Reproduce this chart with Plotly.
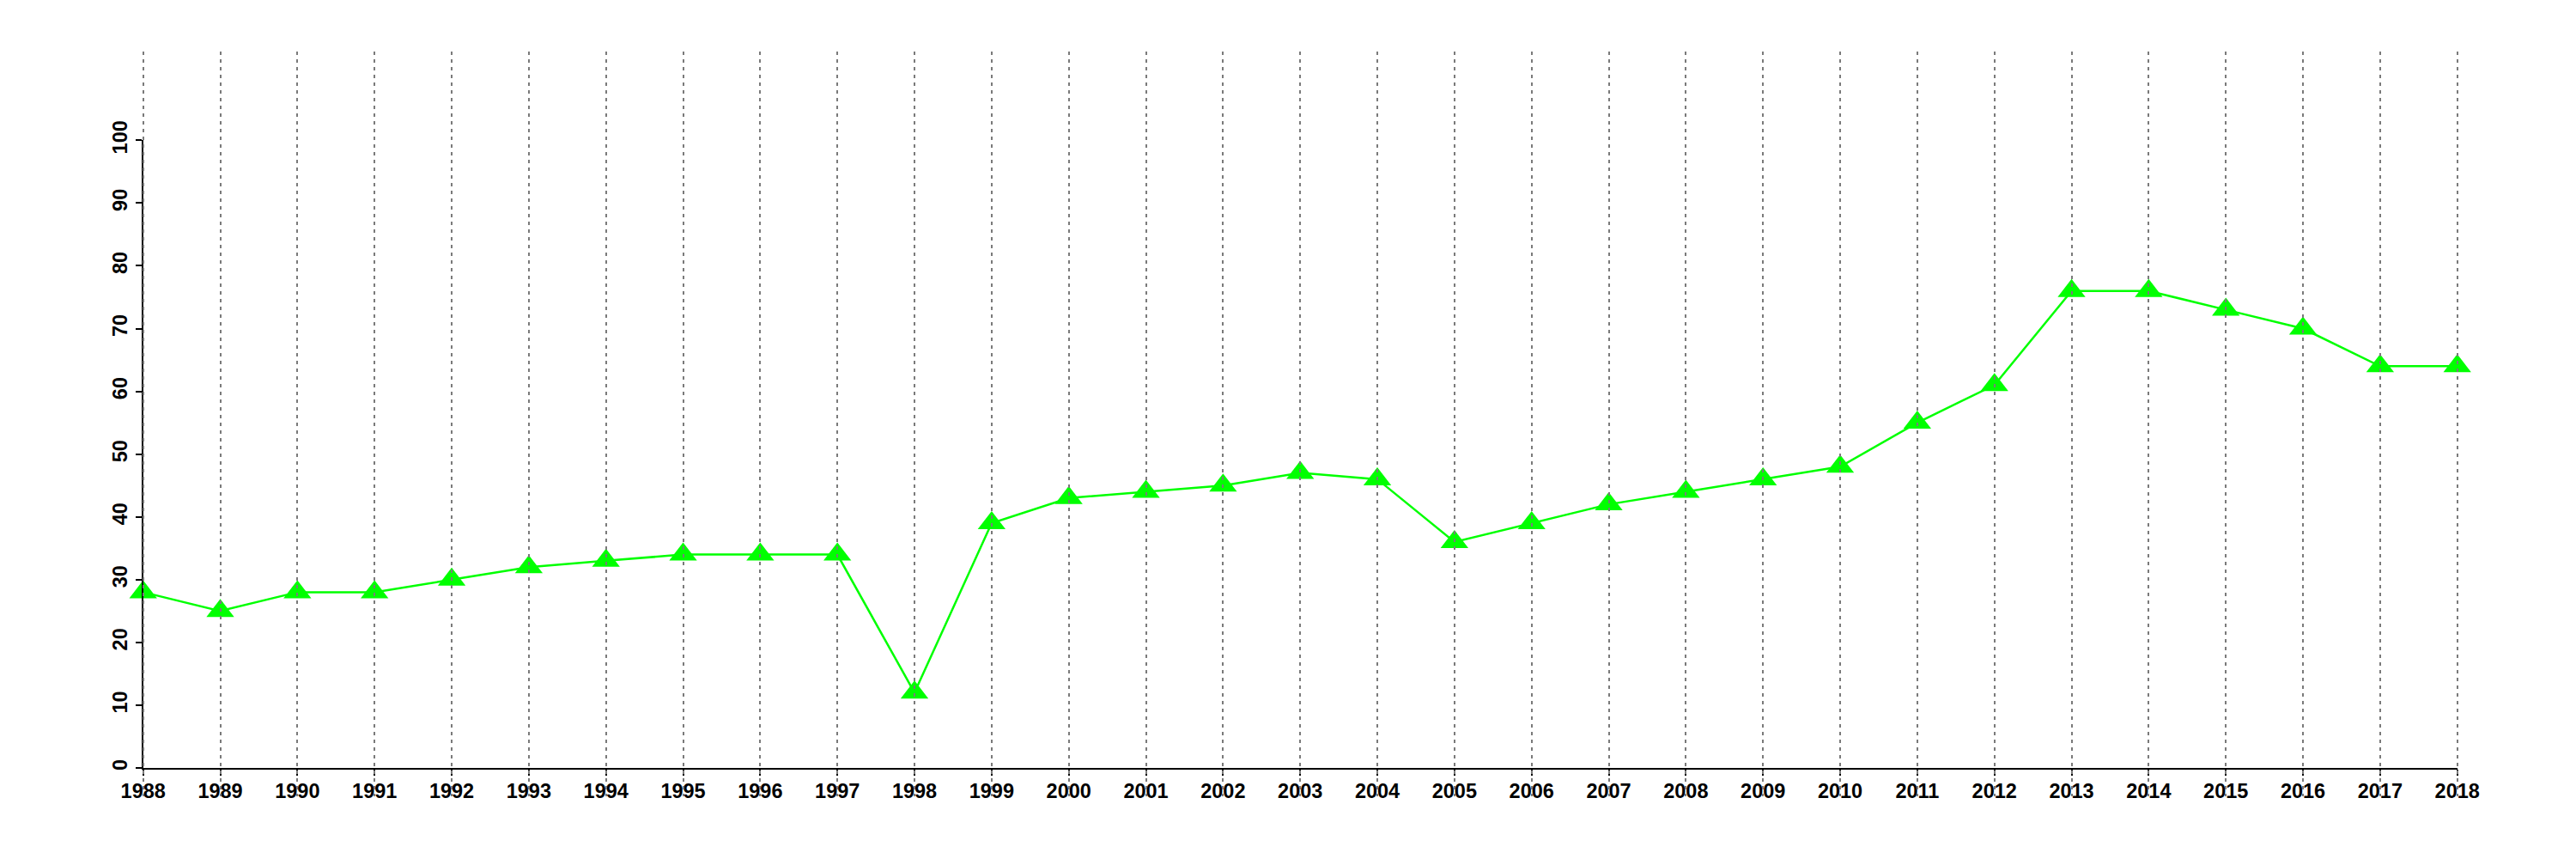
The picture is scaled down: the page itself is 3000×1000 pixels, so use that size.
import plotly.graph_objects as go

# ---- data ----
years = list(range(1988, 2019))
values = [28, 25, 28, 28, 30, 32, 33, 34, 34, 34,
          12, 39, 43, 44, 45, 47, 46, 36, 39, 42,
          44, 46, 48, 55, 61, 76, 76, 73, 70, 64, 64]
y_ticks = list(range(0, 101, 10))
x_tick_labels = [str(y) for y in years]

# ---- layout geometry (page pixels; the page body has an 8px margin) ----
OFF = 8
W, H = 3000 - OFF, 1000 - OFF
ax_left, ax_right = 166.7 - OFF, 2861.7 - OFF   # x positions of first / last year
ax_top, ax_bottom = 163.3 - OFF, 894.0 - OFF    # y positions of 100 / 0
grid_top, grid_bottom = 60.0 - OFF, 927.0 - OFF # vertical extent of dashed grid
ext = 1.0                                        # years of extension for grid axis

px_per_year = (ax_right - ax_left) / (years[-1] - years[0])

data_x_domain = [ax_left / W, ax_right / W]
data_y_domain = [1 - ax_bottom / H, 1 - ax_top / H]
grid_x_domain = [(ax_left - ext * px_per_year) / W, (ax_right + ext * px_per_year) / W]
grid_y_domain = [1 - grid_bottom / H, 1 - grid_top / H]

font_family = "Liberation Sans, Arial, Helvetica, sans-serif"
tickfont = dict(family=font_family, size=23.5, color="black", weight="bold")

fig = go.Figure()

# the visible series (drawn in the first subplot)
fig.add_trace(go.Scatter(
    x=years, y=values, xaxis="x", yaxis="y", mode="lines+markers",
    line=dict(color="#00FF00", width=2.5),
    marker=dict(symbol="triangle-up", size=28, color="#00FF00", line=dict(width=0)),
    cliponaxis=False, showlegend=False))

# invisible trace holding the grid subplot (drawn on top, like abline in R)
fig.add_trace(go.Scatter(
    x=years, y=values, xaxis="x2", yaxis="y2", mode="markers",
    marker=dict(opacity=0), hoverinfo="skip", showlegend=False))

fig.update_layout(
    template="none",
    width=W, height=H,
    autosize=False,
    margin=dict(l=0, r=0, t=0, b=0, pad=0),
    paper_bgcolor="white",
    plot_bgcolor="rgba(0,0,0,0)",
    showlegend=False,
    xaxis=dict(
        domain=data_x_domain, automargin=False,
        range=[years[0], years[-1]],
        tickmode="array", tickvals=years, ticktext=x_tick_labels,
        showgrid=False, zeroline=False,
        showline=True, linecolor="black", linewidth=2,
        ticks="outside", ticklen=7, tickwidth=2, tickcolor="black",
        tickfont=tickfont, tickangle=0, ticklabelstandoff=-2,
        anchor="y", fixedrange=True,
    ),
    yaxis=dict(
        domain=data_y_domain, automargin=False,
        range=[y_ticks[0], y_ticks[-1]],
        tickmode="array", tickvals=y_ticks,
        showgrid=False, zeroline=False,
        showline=True, linecolor="black", linewidth=2,
        ticks="outside", ticklen=7, tickwidth=2, tickcolor="black",
        tickfont=tickfont, tickangle=-90,
        anchor="x", fixedrange=True,
    ),
    xaxis2=dict(
        domain=grid_x_domain, automargin=False,
        range=[years[0] - ext, years[-1] + ext],
        tickmode="array", tickvals=years,
        showgrid=True, gridcolor="#7a7a7a", gridwidth=2.2, griddash="3.5px,5.5px",
        showticklabels=False, ticks="", zeroline=False, showline=False,
        anchor="y2", fixedrange=True,
    ),
    yaxis2=dict(
        domain=grid_y_domain, automargin=False, visible=False,
        showgrid=False, zeroline=False,
        anchor="x2", fixedrange=True,
    ),
)

fig.write_html("out.html")
